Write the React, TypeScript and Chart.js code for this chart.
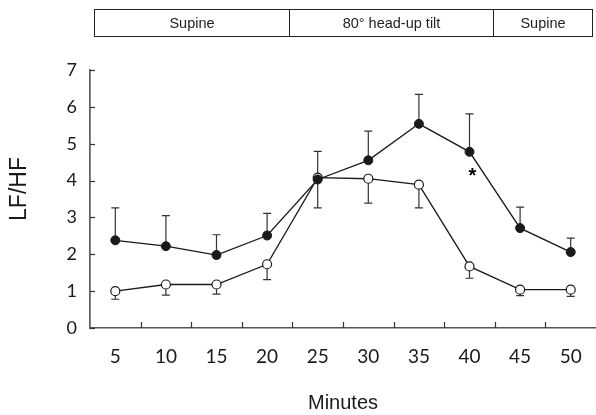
import React, { useEffect, useRef } from "react";
import { Chart, registerables } from "chart.js";

Chart.register(...registerables);

const minutes = ["5", "10", "15", "20", "25", "30", "35", "40", "45", "50"];
const tiltValues = [2.38, 2.22, 1.98, 2.51, 4.03, 4.55, 5.54, 4.78, 2.71, 2.06];
const tiltUpper = [3.26, 3.05, 2.53, 3.11, 4.79, 5.34, 6.34, 5.81, 3.28, 2.44];
const controlValues = [1.0, 1.18, 1.18, 1.73, 4.08, 4.05, 3.89, 1.67, 1.04, 1.04];
const controlLower = [0.78, 0.89, 0.92, 1.31, 3.26, 3.39, 3.26, 1.35, 0.88, 0.86];
const phaseNames = ["Supine", "80° head-up tilt", "Supine"];
const yTitle = "LF/HF";
const starIndex = 7;
const starValue = 4.2;

const INK = "#1a1a1a";

const decorPlugin = {
  id: "decor",
  beforeDatasetsDraw(chart: any) {
    const ctx = chart.ctx;
    const x = chart.scales.x;
    const y = chart.scales.y;
    ctx.save();
    ctx.strokeStyle = "#333";
    ctx.lineWidth = 1.2;
    const cap = 4;
    const drawBar = (i: number, from: number, to: number) => {
      const px = x.getPixelForValue(i);
      const y1 = y.getPixelForValue(from);
      const y2 = y.getPixelForValue(to);
      ctx.beginPath();
      ctx.moveTo(px, y1);
      ctx.lineTo(px, y2);
      ctx.moveTo(px - cap, y2);
      ctx.lineTo(px + cap, y2);
      ctx.stroke();
    };
    tiltValues.forEach((v, i) => drawBar(i, v, tiltUpper[i]));
    controlValues.forEach((v, i) => drawBar(i, v, controlLower[i]));
    ctx.restore();
  },
  afterDraw(chart: any) {
    const ctx = chart.ctx;
    const x = chart.scales.x;
    const y = chart.scales.y;
    const area = chart.chartArea;
    ctx.save();
    ctx.strokeStyle = "#333";
    ctx.lineWidth = 1.2;
    for (let i = 0; i < minutes.length - 1; i++) {
      const px = Math.round((x.getPixelForValue(i) + x.getPixelForValue(i + 1)) / 2) + 0.5;
      ctx.beginPath();
      ctx.moveTo(px, area.bottom);
      ctx.lineTo(px, area.bottom - 6);
      ctx.stroke();
    }
    y.ticks.forEach((t: any) => {
      const py = Math.round(y.getPixelForValue(t.value)) + 0.5;
      ctx.beginPath();
      ctx.moveTo(area.left, py);
      ctx.lineTo(area.left + 5, py);
      ctx.stroke();
    });
    // y axis title
    ctx.save();
    ctx.translate(20, (area.top + area.bottom) / 2 - 10);
    ctx.rotate(-Math.PI / 2);
    ctx.fillStyle = INK;
    ctx.font = "23px 'Liberation Sans'";
    ctx.textAlign = "center";
    ctx.textBaseline = "middle";
    ctx.fillText(yTitle, 0, 0);
    ctx.restore();
    // asterisk
    ctx.fillStyle = "#000";
    ctx.font = "bold 20px 'Liberation Sans'";
    ctx.textAlign = "center";
    ctx.textBaseline = "middle";
    ctx.fillText("*", x.getPixelForValue(starIndex) + 3, y.getPixelForValue(starValue) + 3);
    // phase bar
    const top = 9.5;
    const bottom = 36.5;
    const left = area.left + 4.5;
    const right = area.right - 3.5;
    const d1 = Math.round((x.getPixelForValue(3) + x.getPixelForValue(4)) / 2) - 3 + 0.5;
    const d2 = Math.round((x.getPixelForValue(7) + x.getPixelForValue(8)) / 2) - 2 + 0.5;
    ctx.strokeStyle = "#222";
    ctx.lineWidth = 1;
    ctx.strokeRect(left, top, right - left, bottom - top);
    ctx.beginPath();
    ctx.moveTo(d1, top);
    ctx.lineTo(d1, bottom);
    ctx.moveTo(d2, top);
    ctx.lineTo(d2, bottom);
    ctx.stroke();
    ctx.font = "14.5px 'Liberation Sans'";
    ctx.fillStyle = "#222";
    const bounds = [left, d1, d2, right];
    phaseNames.forEach((name, i) => {
      ctx.fillText(name, (bounds[i] + bounds[i + 1]) / 2, (top + bottom) / 2 + 1);
    });
    ctx.restore();
  },
};

export default function App() {
  const ref = useRef<HTMLCanvasElement>(null);
  useEffect(() => {
    if (!ref.current) return;
    const chart = new Chart(ref.current, {
      type: "line",
      data: {
        labels: minutes,
        datasets: [
          {
            label: "Tilt",
            data: tiltValues,
            borderColor: INK,
            borderWidth: 1.3,
            backgroundColor: INK,
            pointBackgroundColor: INK,
            pointBorderColor: INK,
            pointRadius: 4.5,
            pointBorderWidth: 1,
            tension: 0,
          },
          {
            label: "Control",
            data: controlValues,
            borderColor: INK,
            borderWidth: 1.3,
            backgroundColor: "#fff",
            pointBackgroundColor: "#fff",
            pointBorderColor: INK,
            pointRadius: 4.5,
            pointBorderWidth: 1.2,
            tension: 0,
          },
        ],
      },
      options: {
        responsive: false,
        animation: false,
        layout: { autoPadding: false, padding: { top: 70, left: 0, right: 0, bottom: 0 } },
        plugins: { legend: { display: false }, tooltip: { enabled: false } },
        scales: {
          x: {
            type: "category",
            offset: true,
            grid: { drawOnChartArea: false, drawTicks: false },
            border: { display: true, color: "#555", width: 1.6 },
            ticks: { color: INK, font: { family: "Lato", size: 19 }, padding: 17 },
            title: {
              display: true,
              text: "Minutes",
              color: INK,
              font: { family: "Liberation Sans", size: 20 },
              padding: { top: 0, bottom: 0 },
            },
            afterFit: (s: any) => {
              s.height = 87;
              s.paddingLeft = 0;
              s.paddingRight = 0;
            },
          },
          y: {
            min: 0,
            max: 7,
            grid: { drawOnChartArea: false, drawTicks: false },
            border: { display: true, color: "#666", width: 1.8 },
            ticks: { stepSize: 1, color: INK, font: { family: "Lato", size: 18 }, padding: 13 },
            afterFit: (s: any) => {
              s.width = 90;
            },
          },
        },
      },
      plugins: [decorPlugin],
    });
    return () => chart.destroy();
  }, []);
  return (
    <div style={{ position: "absolute", left: 0, top: 0, width: 596, height: 415, background: "#fff" }}>
      <canvas ref={ref} width={596} height={415} />
    </div>
  );
}
